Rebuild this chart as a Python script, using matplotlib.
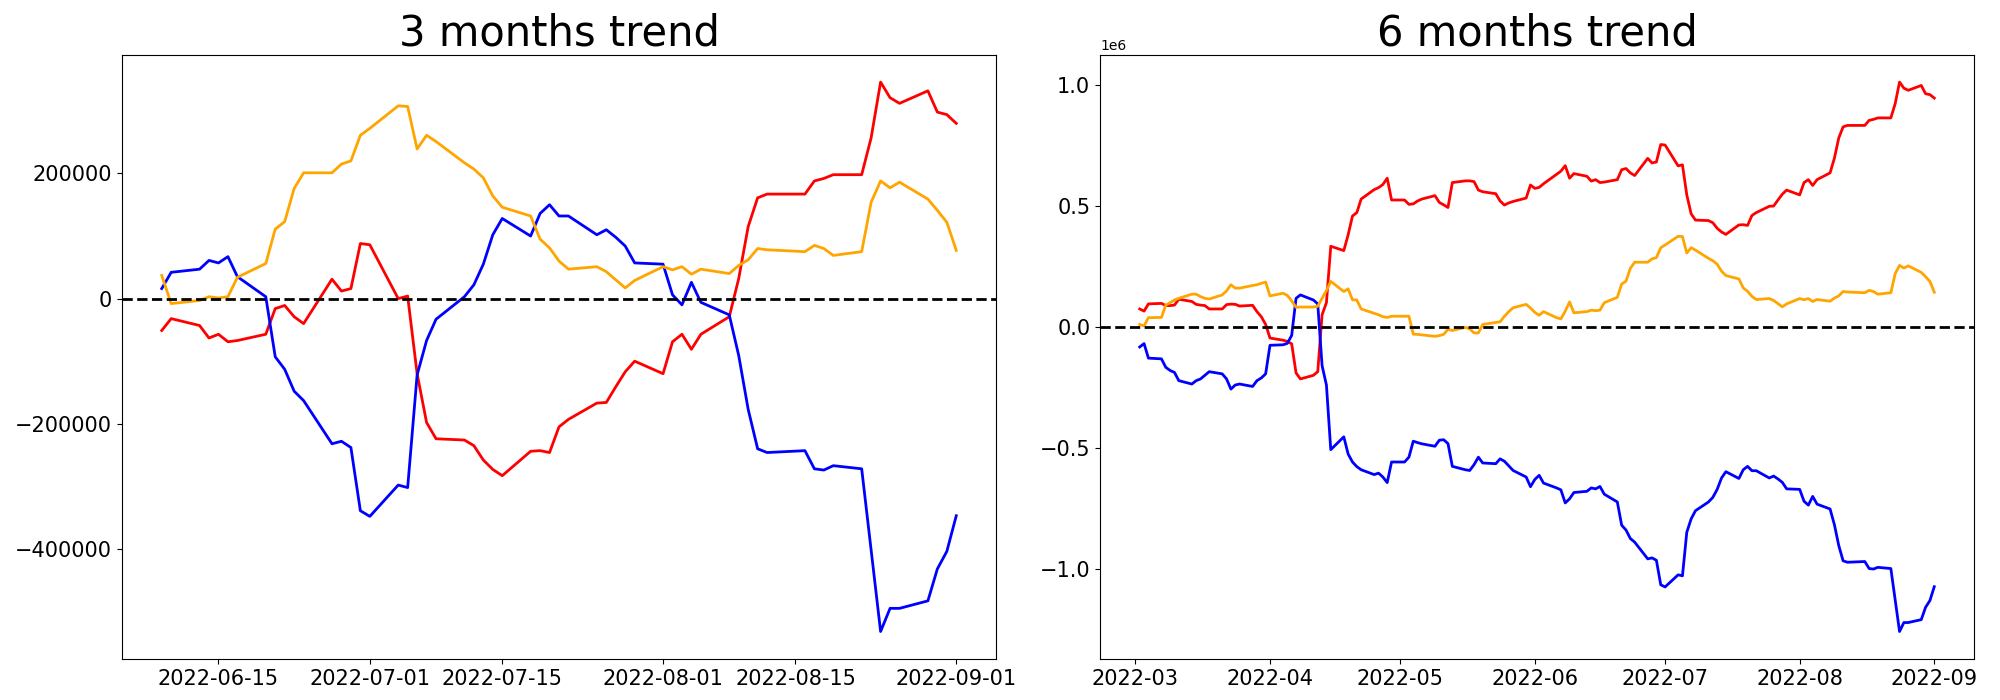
import matplotlib
matplotlib.use('Agg')
import matplotlib.pyplot as plt
import numpy as np
import pandas as pd

# trading days (2022-08-15 missing in the source)
dates_6m = pd.bdate_range('2022-03-02', '2022-09-01').drop(pd.Timestamp('2022-08-15'))
dates_3m = pd.bdate_range('2022-06-09', '2022-09-01').drop(pd.Timestamp('2022-08-15'))

# 3 months cumulative values (thousands)
red_3m = [-51, -32, -43, -63, -57, -69, -67, -57, -16, -11, -29, -40, 31, 12, 16, 88, 86, 0, 4, -120,
          -198, -224, -226, -235, -258, -273, -283, -244, -243, -246, -205, -193, -167, -166, -141, -117,
          -100, -120, -69, -57, -81, -57, -29, 32, 115, 161, 167, 167, 188, 192, 198, 198, 257, 346, 321,
          312, 332, 298, 294, 280]
blue_3m = [16, 42, 47, 61, 57, 67, 35, 3, -93, -113, -148, -163, -232, -228, -238, -339, -348, -298, -302,
           -122, -67, -33, 3, 22, 55, 102, 128, 100, 136, 150, 132, 132, 102, 110, 98, 84, 57, 55, 6, -10,
           26, -6, -26, -91, -177, -240, -246, -243, -272, -274, -267, -272, -402, -532, -495, -495, -483,
           -432, -404, -347]
orange_3m = [37, -8, -3, 3, 1, 3, 34, 56, 111, 123, 176, 201, 201, 215, 220, 261, 272, 308, 307, 239, 261,
             251, 217, 207, 193, 164, 146, 132, 95, 81, 60, 47, 51, 43, 30, 17, 29, 51, 46, 51, 39, 47, 40,
             53, 62, 80, 78, 75, 85, 80, 69, 75, 154, 188, 177, 186, 159, 141, 122, 77]

# 6 months cumulative values (thousands)
red_6m = [74, 65, 95, 97, 88, 88, 90, 114, 105, 93, 90, 88, 74, 74, 92, 94, 93, 86, 89, 63, 42, 10,
          -46, -55, -60, -70, -190, -215, -200, -185, 50, 100, 333, 315, 380, 458, 472, 528, 567, 575, 588,
          614, 524,
          524, 506, 508, 520, 528, 542, 514, 504, 493, 596, 603, 603, 600, 565, 558, 550, 520, 503, 512,
          518, 532, 586,
          572, 576, 591, 630, 643, 666,
          614, 633, 622, 602, 608, 596, 598, 608, 649, 654, 636, 625, 696, 677, 681, 753, 751, 665, 669,
          545, 467, 441, 439, 430, 407, 392, 382, 421, 422, 419, 460, 472, 498, 499, 524, 548, 565, 545,
          596, 608, 584, 608, 636, 697, 780, 826, 832, 832, 853, 857, 863, 863, 922, 1011, 986, 977, 997,
          963, 959, 945]
blue_6m = [-83, -69, -129, -132, -167, -180, -188, -222, -236, -222, -215, -200, -185, -194, -215, -257,
           -240, -236, -246, -222, -211, -194,
           -76, -74, -68, -35, 118, 132, 111, 95, -160, -240, -507, -454, -525, -558, -577, -590, -610,
           -604, -620, -643, -558,
           -558, -538, -472, -478, -483, -493, -468, -466, -482, -576, -590, -593, -569, -538, -562, -565,
           -545, -555, -574, -593, -620, -660,
           -630, -613, -645, -665, -673, -727,
           -710, -684, -679, -665, -669, -659, -691, -723, -819, -839, -874, -889, -958, -954, -964, -1065,
           -1074, -1024, -1028, -848, -793, -759, -723, -704, -671, -624, -598, -626, -590, -576, -594,
           -594, -624, -616, -628, -642, -669, -671, -720, -736, -700, -732, -752, -817, -903, -966, -972,
           -969, -998, -1000, -993, -998, -1128, -1258, -1221, -1221, -1209, -1158, -1130, -1073]
orange_6m = [10, 4, 38, 39, 90, 100, 111, 118, 135, 135, 125, 118, 115, 132, 149, 174, 160, 160, 171, 174,
             180, 185,
             128, 139, 130, 107, 81, 82, 82, 85, 118, 150, 188, 146, 157, 112, 111, 74, 56, 50, 42, 39, 44,
             44, 44, -30, -31, -33, -39, -36, -31, -10, -15, -2, -8, -25, -25, 10, 18, 21, 44, 63, 79, 93,
             78,
             60, 48, 63, 38, 33, 65,
             103, 58, 63, 69, 67, 69, 100, 122, 177, 189, 242, 267, 267, 281, 286, 327, 338, 374, 373, 305,
             327, 317, 283, 273, 259, 230, 212, 198, 161, 147, 126, 113, 117, 109, 96, 83, 95, 117, 112,
             117, 105, 113, 106, 119, 128, 146, 144, 141, 151, 146, 135, 141, 220, 254, 243, 252, 225, 207,
             188, 143]

fig, (ax1, ax2) = plt.subplots(1, 2, figsize=(20, 7), dpi=100)
fig.subplots_adjust(left=0.061, right=0.987, bottom=0.0586, top=0.922, wspace=0.119)

panels = [
    (ax1, dates_3m, red_3m, blue_3m, orange_3m, '3 months trend'),
    (ax2, dates_6m, red_6m, blue_6m, orange_6m, '6 months trend'),
]
for ax, d, r, b, o, title in panels:
    ax.plot(d, np.array(r) * 1000, color='red', lw=2)
    ax.plot(d, np.array(b) * 1000, color='blue', lw=2)
    ax.plot(d, np.array(o) * 1000, color='orange', lw=2)
    ax.axhline(0, color='black', linestyle='--', lw=2)
    ax.set_title(title, fontsize=30)
    ax.tick_params(labelsize=15)

fig.savefig('out.png', dpi=100)
